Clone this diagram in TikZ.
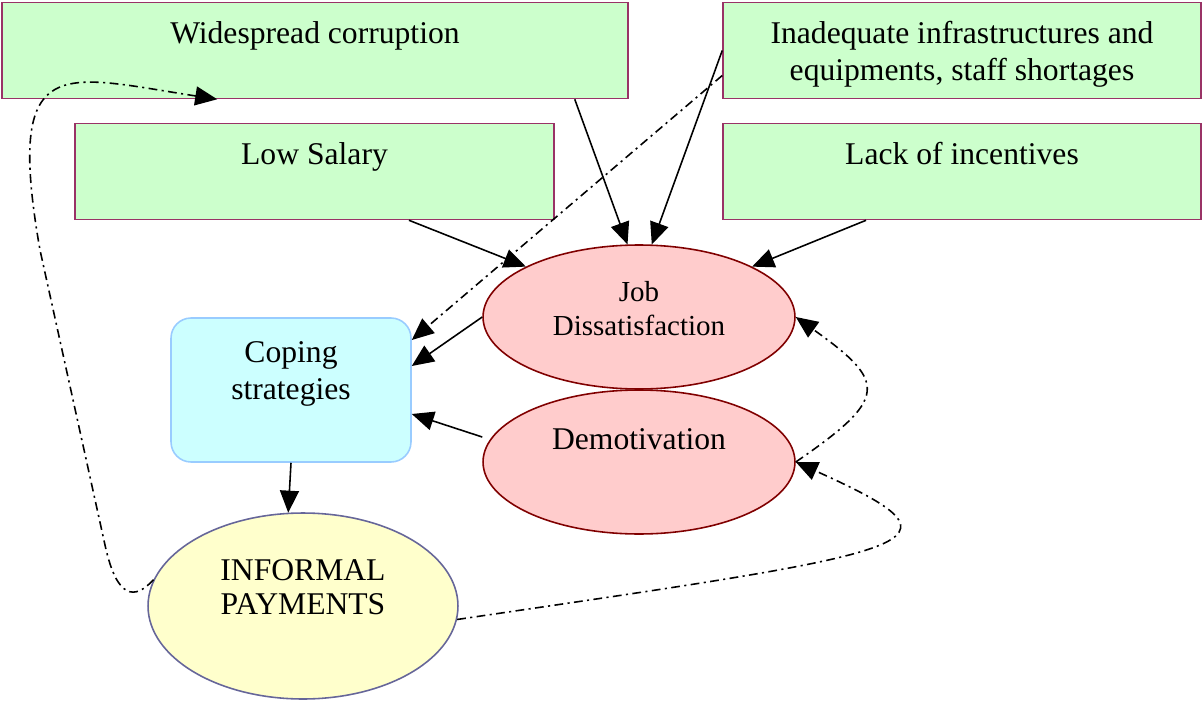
\documentclass[tikz,border=0pt]{standalone}
\usepackage{fontspec}
\setmainfont{Liberation Serif}
\usepackage{tikz}
\usetikzlibrary{arrows.meta, positioning, shapes.geometric}

\definecolor{boxgreen}{HTML}{CCFFCC}
\definecolor{boxedge}{HTML}{993366}
\definecolor{ovalred}{HTML}{FFCCCC}
\definecolor{ovaledge}{HTML}{800000}
\definecolor{copefill}{HTML}{CCFFFF}
\definecolor{copeedge}{HTML}{99CCFF}
\definecolor{payfill}{HTML}{FFFFCC}
\definecolor{payedge}{HTML}{666699}

\begin{document}
\begin{tikzpicture}[x=0.02cm, y=-0.02cm, % one unit = one pixel
  causebox/.style={draw=boxedge, fill=boxgreen, line width=0.9pt, minimum height=1.92cm, inner sep=0},
  oval/.style={ellipse, draw=ovaledge, fill=ovalred, line width=0.9pt, minimum width=6.24cm, minimum height=2.88cm, inner sep=0},
  copebox/.style={rectangle, rounded corners=0.4cm, draw=copeedge, fill=copefill, line width=0.9pt, minimum width=4.8cm, minimum height=2.88cm, inner sep=0},
  payoval/.style={ellipse, draw=payedge, fill=payfill, line width=0.9pt, minimum width=6.2cm, minimum height=3.72cm, inner sep=0},
  boxtext/.style={inner sep=0, align=center, font=\fontsize{18}{21}\selectfont},
  arr/.style={line width=0.9pt, -{Triangle[length=4.4mm,width=3.8mm]}},
  dasharr/.style={arr, dash pattern=on 5pt off 2.5pt on 1.2pt off 2.5pt}]

  \useasboundingbox (0,0) rectangle (1203,706);

  % Causes
  \node[causebox, minimum width=12.52cm] (corr) at (315,50.5) {};
  \node[causebox, minimum width=9.56cm] (infra) at (962,50.5) {};
  \node[causebox, minimum width=9.58cm] (sal) at (314.5,171.5) {};
  \node[causebox, minimum width=9.56cm] (inc) at (962,171.5) {};
  \node[boxtext, below=0.38cm of corr.north] (tcorr) {Widespread corruption};
  \node[boxtext, below=0.38cm of infra.north] (tinfra) {Inadequate infrastructures and\\equipments, staff shortages};
  \node[boxtext, below=0.38cm of sal.north] (tsal) {Low Salary};
  \node[boxtext, below=0.38cm of inc.north] (tinc) {Lack of incentives};

  % Effects
  \node[oval] (job) at (639,317) {};
  \node[oval] (demot) at (639,462) {};
  \node[copebox] (cope) at (291,390) {};
  \node[payoval] (pay) at (303,606) {};
  \node[boxtext, font=\fontsize{16.5}{19.4}\selectfont] (tjob) at ([yshift=0.16cm]job.center) {Job\\Dissatisfaction};
  \node[boxtext] (tdemot) at ([yshift=0.46cm]demot.center) {Demotivation};
  \node[boxtext, below=0.48cm of cope.north] (tcope) {Coping\\strategies};
  \node[boxtext, font=\fontsize{18}{19.5}\selectfont] (tpay) at ([yshift=0.38cm]pay.center) {INFORMAL\\PAYMENTS};

  % Arrows
  \draw[arr] ([xshift=-1.08cm]corr.south east) -- (job.99);
  \draw[arr] (infra.west) -- (job.80);
  \draw[arr] ([xshift=1.89cm]sal.south) -- (job.156);
  \draw[arr] ([xshift=-1.92cm]inc.south) -- (job.24);
  \draw[dasharr] ([yshift=-0.5cm]infra.west) -- ([yshift=1cm]cope.east);
  \draw[arr] (job.west) -- ([yshift=0.48cm]cope.east);
  \draw[arr] ([yshift=0.5cm]demot.west) -- ([yshift=-0.48cm]cope.east);
  \draw[arr] (cope.south) -- (pay.99);

  % Feedback loops
  \draw[dasharr] (demot.east) .. controls (889,398) and (887,382) .. (job.east);
  \draw[dasharr] (pay.-5) .. controls (930,550) and (980,545) .. (demot.east);
  \draw[dasharr] (pay.170) .. controls (135,600) and (117,600) .. (105,545) -- (40,250)
    .. controls (5,50) and (60,75) .. ([xshift=4.32cm]corr.south west);
\end{tikzpicture}
\end{document}
